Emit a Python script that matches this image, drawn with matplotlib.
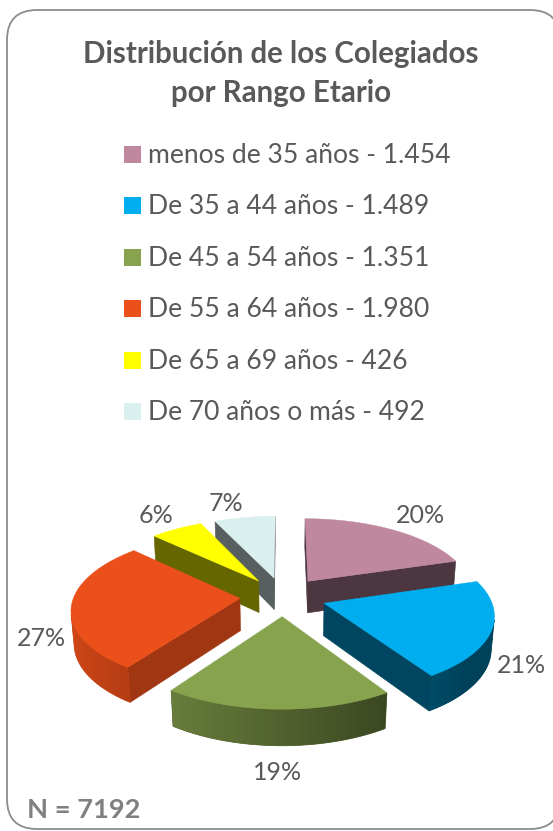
import numpy as np
import matplotlib
matplotlib.use('Agg')
import matplotlib.pyplot as plt
from matplotlib.patches import Polygon, FancyBboxPatch, Rectangle
from matplotlib.colors import to_rgb
from matplotlib.transforms import offset_copy

# ---------------- data ----------------
title_lines = ['Distribución de los Colegiados', 'por Rango Etario']
categories = ['menos de 35 años', 'De 35 a 44 años', 'De 45 a 54 años',
              'De 55 a 64 años', 'De 65 a 69 años', 'De 70 años o más']
counts = [1454, 1489, 1351, 1980, 426, 492]
count_labels = ['1.454', '1.489', '1.351', '1.980', '426', '492']
total_label = 'N = 7192'

# ---------------- styles ----------------
colors = ['#BF889E', '#00AEEF', '#87A34D', '#EB501A', '#FFFF00', '#DAF0EE']
side_shade = [0.4, 0.4, 0.4, 0.68, 0.4, 0.4]
txt_color = '#595959'
FONT = ['Lato', 'DejaVu Sans']
plt.rcParams['font.family'] = FONT

W, H = 553, 831
fig = plt.figure(figsize=(W / 100, H / 100), dpi=100)
ax = fig.add_axes([0, 0, 1, 1])
ax.set_xlim(0, W)
ax.set_ylim(H, 0)
ax.axis('off')

# frame
frame = FancyBboxPatch((7, 10), 553, 819,
                       boxstyle='round,pad=0,rounding_size=30',
                       fc='white', ec='#8C8C8C', lw=1.3, zorder=0.5)
ax.add_patch(frame)


def fit_width(t, target):
    fig.canvas.draw()
    r = fig.canvas.get_renderer()
    w = t.get_window_extent(r).width
    t.set_fontsize(t.get_fontsize() * target / w)
    return t.get_fontsize()


# title
t1 = ax.text(281, 63, title_lines[0], ha='center', va='baseline',
             fontsize=22, fontweight='bold', color=txt_color)
fs = fit_width(t1, 397)
ax.text(281, 102, title_lines[1], ha='center', va='baseline',
        fontsize=fs, fontweight='bold', color=txt_color)

# legend
row0, row_step = 154.5, 51.4
leg_texts = []
for i, (cat, lab) in enumerate(zip(categories, count_labels)):
    yc = row0 + i * row_step
    ax.add_patch(Rectangle((124, yc - 8.5), 17, 17, fc=colors[i], ec='none'))
    leg_texts.append(ax.text(148, yc + 8.5, f'{cat} - {lab}', ha='left',
                             va='baseline', fontsize=16, color=txt_color))
fs_leg = fit_width(leg_texts[0], 304)
for t in leg_texts[1:]:
    t.set_fontsize(fs_leg)

# N label
tn = ax.text(27, 818, total_label, ha='left', va='baseline', fontsize=16,
             fontweight='bold', color='#808080')
fit_width(tn, 113)

# ---------------- 3D pie ----------------
cx, cy = 283.0, 596.5
f_len = 1124.0
D = 6.77
elev = np.deg2rad(26.7)
se, ce = np.sin(elev), np.cos(elev)
h = 0.22
E = 0.26
cam = np.array([0.0, -D * ce, D * se])


def proj(x, y, z):
    x = np.atleast_1d(np.asarray(x, float))
    y = np.atleast_1d(np.asarray(y, float))
    z = np.atleast_1d(np.asarray(z, float))
    depth = D + y * ce - z * se
    sx = cx + f_len * x / depth
    sy = cy - f_len * (y * se + z * ce) / depth
    return np.column_stack([sx, sy])


def shade(c, k):
    r, g, b = to_rgb(c)
    return (min(r * k, 1), min(g * k, 1), min(b * k, 1))


def wall_k(th):
    return np.clip(0.6 + 0.3 * np.cos(th - 1.5 * np.pi), 0.38, 0.92)


vals = np.array(counts, float)
fr = vals / vals.sum()
edges = np.concatenate([[0.0], np.cumsum(fr)]) * 2 * np.pi
mids = (edges[:-1] + edges[1:]) / 2

# percentages (largest remainder so they add to 100)
raw = fr * 100
pct = np.floor(raw).astype(int)
rem = raw - pct
for j in np.argsort(-rem)[:100 - pct.sum()]:
    pct[j] += 1

zc = [2.0]


def nz():
    zc[0] += 0.01
    return zc[0]


order = sorted(range(len(vals)), key=lambda i: -np.cos(mids[i]))
for i in order:
    a0, a1, m = edges[i], edges[i + 1], mids[i]
    ox, oy = E * np.sin(m), E * np.cos(m)
    col = colors[i]
    # radial faces
    for a, n in ((a0, np.array([-np.cos(a0), np.sin(a0), 0])),
                 (a1, np.array([np.cos(a1), -np.sin(a1), 0]))):
        P = np.array([ox + 0.5 * np.sin(a), oy + 0.5 * np.cos(a), -h / 2])
        if np.dot(n, cam - P) > 0:
            xs = [ox, ox + np.sin(a), ox + np.sin(a), ox]
            ys = [oy, oy + np.cos(a), oy + np.cos(a), oy]
            zs = [0, 0, -h, -h]
            c = shade(col, side_shade[i])
            ax.add_patch(Polygon(proj(xs, ys, zs), closed=True, fc=c, ec=c,
                                 lw=0.4, zorder=nz()))
    # outer wall (visible part), filled with a horizontal gradient
    ths = np.linspace(a0, a1, 200)
    nrm = np.column_stack([np.sin(ths), np.cos(ths), np.zeros_like(ths)])
    pts = np.column_stack([ox + np.sin(ths), oy + np.cos(ths), np.full_like(ths, -h / 2)])
    vis = np.einsum('ij,ij->i', nrm, cam[None, :] - pts) > 0
    if vis.sum() >= 2:
        tv = ths[vis]
        top = proj(ox + np.sin(tv), oy + np.cos(tv), np.zeros_like(tv))
        bot = proj(ox + np.sin(tv), oy + np.cos(tv), np.full_like(tv, -h))
        poly_xy = np.vstack([top, bot[::-1]])
        kk = wall_k(tv)
        base = shade(col, float(kk.mean()))
        poly = Polygon(poly_xy, closed=True, fc=base, ec=base, lw=0.5, zorder=nz())
        ax.add_patch(poly)
        xmin, xmax = poly_xy[:, 0].min(), poly_xy[:, 0].max()
        ymin, ymax = poly_xy[:, 1].min(), poly_xy[:, 1].max()
        ncol = int(xmax - xmin) + 2
        xcols = np.linspace(xmin, xmax, ncol)
        srt = np.argsort(top[:, 0])
        kcol = np.interp(xcols, top[srt, 0], kk[srt])
        rgb = np.array(to_rgb(col))
        img = np.clip(kcol[:, None] * rgb[None, :], 0, 1)
        img = np.repeat(img[None, :, :], 2, axis=0)
        im = ax.imshow(img, extent=(xmin, xmax, ymax, ymin), origin='upper',
                       interpolation='bilinear', aspect='auto', zorder=nz())
        im.set_clip_path(poly)
    # top face
    tt = np.linspace(a0, a1, 120)
    xs = np.concatenate([[ox], ox + np.sin(tt)])
    ys = np.concatenate([[oy], oy + np.cos(tt)])
    zs = np.zeros_like(xs)
    ax.add_patch(Polygon(proj(xs, ys, zs), closed=True, fc=col, ec=col,
                         lw=0.3, zorder=nz()))

ax.set_xlim(0, W)
ax.set_ylim(H, 0)

# percentage labels
rho = 1.05 + E
pct_texts = []
for i in range(len(vals)):
    m = mids[i]
    s, c = np.sin(m), np.cos(m)
    z = 0.0 if c > 0 else -h
    p = proj([rho * s], [rho * c], [z])[0]
    ha = 'left' if s > 0.3 else ('right' if s < -0.3 else 'center')
    if c > 0.3:
        va = 'bottom'
    elif c < -0.7:
        va = 'top'
    else:
        va = 'center'
    if abs(s) < 0.4 and c > 0:
        ha = 'right'
    dy = -10 if va == 'top' else 0
    tr = offset_copy(ax.transData, fig=fig, x=0, y=dy, units='dots')
    pct_texts.append(ax.text(p[0], p[1], f'{pct[i]}%', ha=ha, va=va,
                             fontsize=16, color=txt_color, transform=tr,
                             zorder=10))
fs_pct = fit_width(pct_texts[0], 49)
for t in pct_texts[1:]:
    t.set_fontsize(fs_pct)

fig.savefig('out.png', dpi=100)
